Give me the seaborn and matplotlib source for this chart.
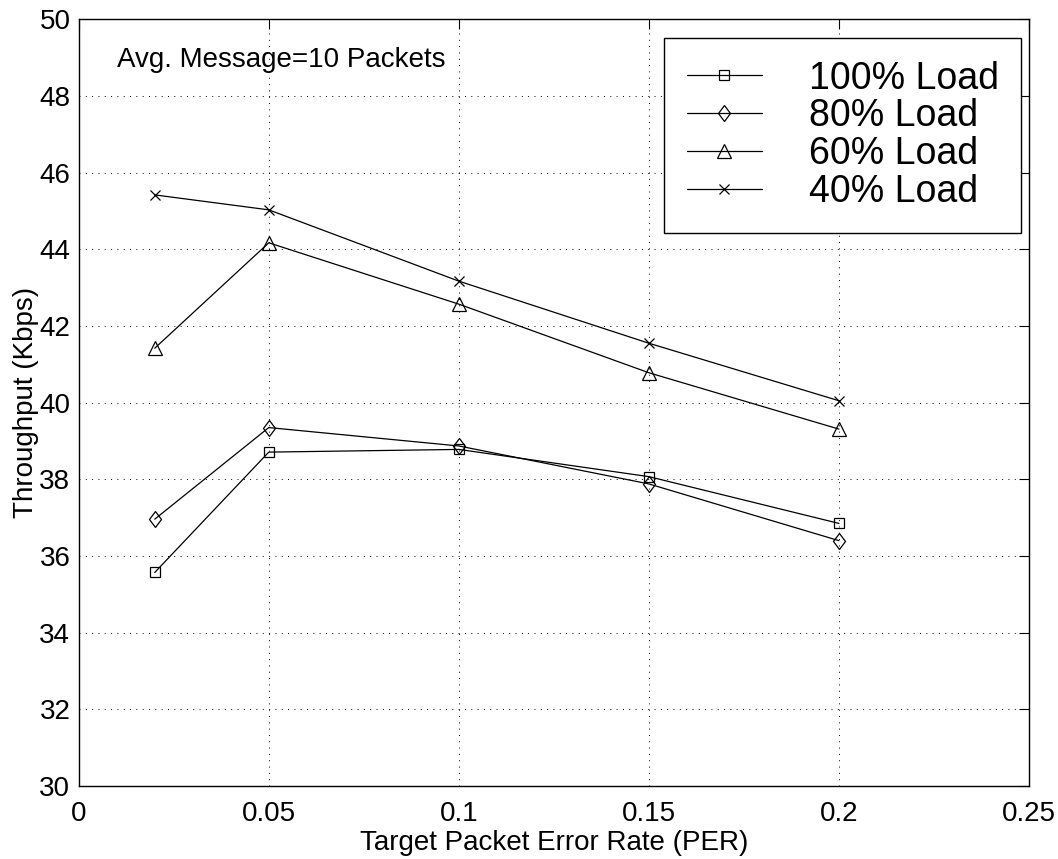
import numpy as np
import pandas as pd
import matplotlib
matplotlib.use('Agg')
import matplotlib.pyplot as plt
from matplotlib.markers import MarkerStyle
from matplotlib.transforms import Affine2D
import seaborn as sns

# ---- data ----
per = [0.02, 0.05, 0.10, 0.15, 0.20]
load_100 = [35.57, 38.71, 38.78, 38.07, 36.85]
load_80 = [36.96, 39.35, 38.87, 37.88, 36.40]
load_60 = [41.42, 44.17, 42.57, 40.78, 39.31]
load_40 = [45.42, 45.03, 43.17, 41.55, 40.05]
series_labels = ['100% Load', '80% Load', '60% Load', '40% Load']
xticks = [0, 0.05, 0.1, 0.15, 0.2, 0.25]
xticklabels = ['0', '0.05', '0.1', '0.15', '0.2', '0.25']
yticks = list(range(30, 51, 2))
annotation = 'Avg. Message=10 Packets'
xlabel = 'Target Packet Error Rate (PER)'
ylabel = 'Throughput (Kbps)'

sns.set_style('white')
plt.rcParams['font.family'] = ['Liberation Sans', 'DejaVu Sans']
plt.rcParams['text.color'] = 'black'
plt.rcParams['axes.labelcolor'] = 'black'
plt.rcParams['xtick.color'] = 'black'
plt.rcParams['ytick.color'] = 'black'

fig = plt.figure(figsize=(10.58, 8.59), dpi=100)
ax = fig.add_axes([0.0744, 0.085, 0.8982, 0.8925])

diamond = MarkerStyle('D', transform=Affine2D().scale(0.76, 1.0))
styles = [
    dict(marker='s', markersize=7.7),
    dict(marker=diamond, markersize=8.6),
    dict(marker='^', markersize=10.5),
    dict(marker='x', markersize=7.2),
]
all_series = [load_100, load_80, load_60, load_40]

for vals, lab, st in zip(all_series, series_labels, styles):
    df = pd.DataFrame({'PER': per, 'Throughput': vals})
    sns.lineplot(data=df, x='PER', y='Throughput', ax=ax, color='black',
                 linewidth=0.9, markerfacecolor='none', markeredgecolor='black',
                 markeredgewidth=0.9, label=lab, **st)

ax.set_xlim(0, 0.25)
ax.set_ylim(30, 50)
ax.set_xticks(xticks)
ax.set_xticklabels(xticklabels)
ax.set_yticks(yticks)
ax.tick_params(direction='in', top=True, right=True, length=7, width=0.8,
               labelsize=20, pad=6, colors='black')
ax.tick_params(axis='x', pad=11)
ax.grid(True, color='black', linestyle=(0, (1, 5.5)), linewidth=0.7)
for sp in ax.spines.values():
    sp.set_color('black')
    sp.set_linewidth(1.0)

ax.set_xlabel(xlabel, fontsize=20, labelpad=2, color='black')
ax.set_ylabel(ylabel, fontsize=20, labelpad=0, color='black')

ax.text(0.0102, 48.76, annotation, fontsize=20, va='baseline', ha='left',
        color='black')

leg = ax.legend(loc='upper right', bbox_to_anchor=(0.9916, 0.9756),
                borderaxespad=0, fontsize=27, frameon=True, fancybox=False,
                edgecolor='black', framealpha=1, labelspacing=0.05,
                handlelength=2.0, handletextpad=1.25, borderpad=0.6,
                labelcolor='black')
leg.get_frame().set_linewidth(1.0)

fig.savefig('out.png', dpi=100)
